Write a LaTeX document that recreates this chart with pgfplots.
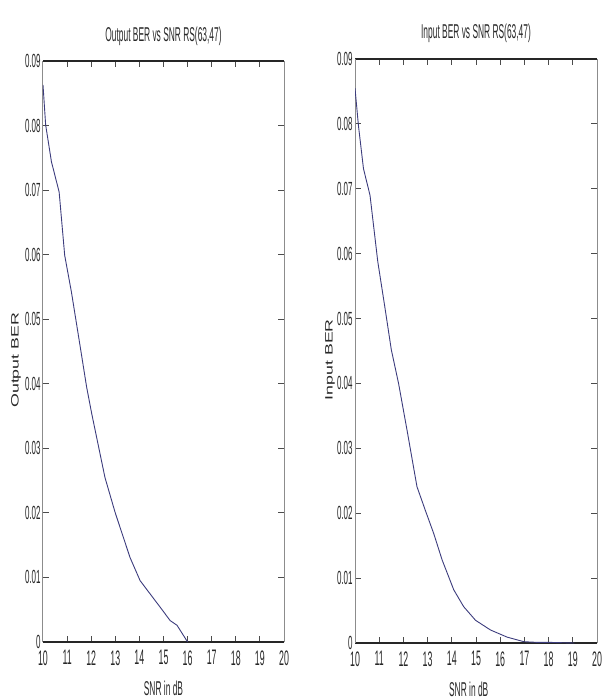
\documentclass[border=0pt]{standalone}
\usepackage{fontspec}
\setmainfont{Liberation Sans}
\newfontfamily\cond[FakeStretch=0.42]{Liberation Sans}
\usepackage{pgfplots}
\pgfplotsset{compat=1.18}
\definecolor{curve}{RGB}{60,60,125}
\definecolor{txt}{RGB}{40,40,40}
\pgfplotstableread{
x y
10 0.0863
10.11 0.0801
10.35 0.0744
10.67 0.0697
10.9 0.0599
11.18 0.0542
11.55 0.0456
11.81 0.0395
12.02 0.0354
12.57 0.0255
12.99 0.0201
13.61 0.0131
14.03 0.0095
14.86 0.0054
15.28 0.0033
15.56 0.0026
16.0 0.0
}\outputber
\pgfplotstableread{
x y
10 0.0855
10.14 0.0798
10.35 0.0731
10.62 0.069
10.94 0.0588
11.24 0.0516
11.5 0.0452
11.8 0.040
12.15 0.0328
12.56 0.0241
12.9 0.0205
13.25 0.0169
13.6 0.0128
14.08 0.0082
14.49 0.0056
14.98 0.0035
15.6 0.002
16.29 0.0009
16.98 0.0002
17.5 0.0001
18 0.0001
18.5 0.00005
19.06 0
}\inputber
\pgfplotsset{
  berstyle/.style={
    scale only axis,
    anchor=south west,
    xmin=10, xmax=20, ymin=0, ymax=0.09,
    scaled y ticks=false, scaled x ticks=false,
    xtick={10,11,12,13,14,15,16,17,18,19,20},
    xticklabels={10,11,12,13,14,15,16,17,18,19,20},
    ytick={0,0.01,0.02,0.03,0.04,0.05,0.06,0.07,0.08,0.09},
    yticklabels={0,0.01,0.02,0.03,0.04,0.05,0.06,0.07,0.08,0.09},
    /pgf/number format/assume math mode=true,
    tick align=inside,
    major tick length=3pt,
    every tick/.style={black!70, line width=0.5pt},
    axis x line=box, axis y line=box,
    separate axis lines,
    x axis line style={black!85, line width=1pt},
    y axis line style={black!45, line width=0.5pt},
    xticklabel style={font=\cond\fontsize{10.5}{11}\selectfont, text=txt, inner sep=1pt, yshift=-3pt},
    yticklabel style={font=\cond\fontsize{9.5}{10}\selectfont, text=txt, inner sep=1pt},
    title style={font=\cond\fontsize{10}{11}\selectfont, text=txt, at={(axis description cs:0.5,1.045)}, anchor=center, yshift=-6.5pt},
    xlabel style={font=\cond\fontsize{10}{11}\selectfont, text=txt, at={(axis description cs:0.5,-0.079)}, anchor=center},
    ylabel style={font=\fontsize{8.9}{10}\selectfont, text=txt, anchor=center},
  }
}
\begin{document}
\begin{tikzpicture}[x=1pt,y=1pt]
\useasboundingbox (0,0) rectangle (302,349.5);
\begin{axis}[berstyle,
  at={(21.5pt,28.5pt)}, width=120.5pt, height=290.5pt,
  title={Output BER vs SNR RS(63,47)},
  xlabel={SNR in dB},
  ylabel={\scalebox{1}[0.6]{Output BER}},
  ylabel style={at={(axis description cs:-0.112,0.485)}},
]
\addplot[curve, line width=0.45pt] table[x=x,y=y] {\outputber};
\end{axis}
\begin{axis}[berstyle,
  at={(177.5pt,28pt)}, width=121pt, height=292pt,
  title={Input BER vs SNR RS(63,47)},
  xlabel={SNR in dB},
  xlabel style={at={(axis description cs:0.47,-0.079)}},
  ylabel={\scalebox{1}[0.6]{Input BER}},
  ylabel style={at={(axis description cs:-0.103,0.485)}},
]
\addplot[curve, line width=0.45pt] table[x=x,y=y] {\inputber};
\end{axis}
\end{tikzpicture}
\end{document}
